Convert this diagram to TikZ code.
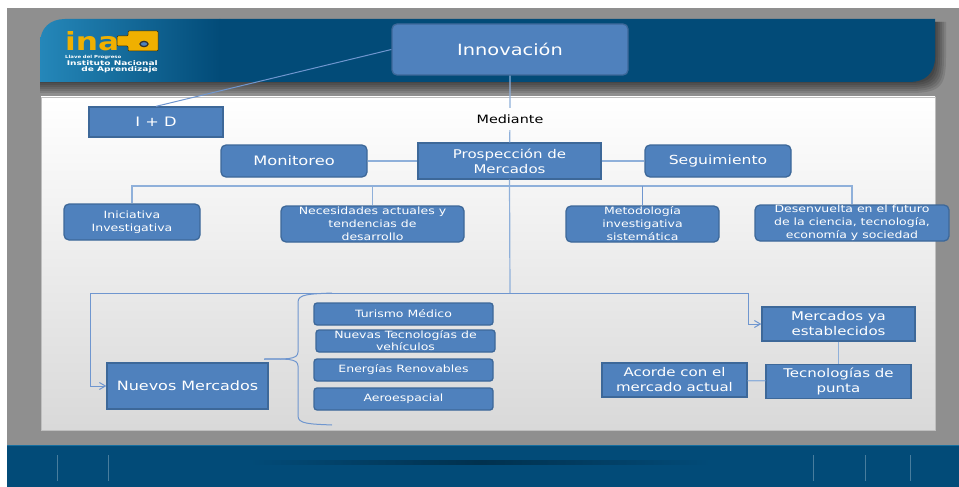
\documentclass[tikz,border=0pt]{standalone}
\usepackage{fontspec}
\setmainfont[FakeStretch=1.25]{DejaVu Sans}
\usetikzlibrary{arrows, arrows.meta}
\usetikzlibrary{calc}
\definecolor{azulcaja}{HTML}{4F81BD}
\definecolor{bordecaja}{HTML}{3D6899}
\definecolor{linea}{HTML}{6F96CF}
\definecolor{lineaclara}{HTML}{8FB0DA}
\definecolor{azulfondo}{HTML}{024B78}
\definecolor{azulclaro}{HTML}{2587B9}
\definecolor{llave}{HTML}{F0B000}
\tikzset{
  caja/.style={draw=bordecaja, line width=1.3pt, fill=azulcaja, text=white, inner sep=0pt, align=center},
  cajar/.style={caja, rounded corners=5pt},
  texg/.style={font=\fontsize{13}{15}\selectfont},
  texp/.style={font=\fontsize{10}{13}\selectfont},
  conector/.style={draw=linea, line width=1pt},
  conclaro/.style={draw=lineaclara, line width=1.2pt},
  flecha/.style={conector, -{Straight Barb[length=6pt, width=7pt]}},
  raya/.style={draw=white, opacity=.28, line width=.6pt},
  logotxt/.style={text=white, font=\bfseries\fontsize{6.4}{7}\selectfont, inner sep=0pt, xscale=1.13}
}
\begin{document}
\begin{tikzpicture}[x=1pt, y=-1pt]
  \useasboundingbox (0, 0) rectangle (959, 487);
  \fill[white] (0, 0) rectangle (959, 487);
  \fill[black!44] (7, 8) rectangle (959, 487);

  % cabecera
  \foreach \d in {11, 9, 7, 5, 3, 1}
    \fill[black, opacity=.11] (40, 60) -- (40, {82+\d}) -- (910, {82+\d}) .. controls ({930+\d}, {82+\d}) and ({935+\d}, {75+\d}) .. ({935+\d}, 57) -- ({935+\d}, 22) -- (900, 22) -- cycle;
  \shade[left color=azulclaro, right color=azulfondo] (40, 82) -- (40, 44) .. controls (40, 28) and (50, 19) .. (65, 19) -- (220, 19) -- (220, 82) -- cycle;
  \fill[azulfondo] (219.5, 19) -- (935, 19) -- (935, 57) .. controls (935, 73) and (925, 82) .. (910, 82) -- (219.5, 82) -- cycle;

  % logo
  \node[text=llave, font=\bfseries\fontsize{25}{25}\selectfont, inner sep=0pt, anchor=base west] (ina) at (65, 51) {ina};
  \fill[llave, draw=black!75!llave, line width=.5pt, rounded corners=1pt] (117, 36) -- (128, 36) -- (128, 31) -- (158, 31) -- (158, 51) -- (128, 51) -- (128, 46) -- (117, 46) -- cycle;
  \fill[azulcaja, draw=black!80, line width=1.3pt] (144, 44) ellipse[x radius=4, y radius=2.6];
  \node[logotxt, font=\bfseries\fontsize{4.2}{4.2}\selectfont, anchor=west, xscale=.9] (lema) at (65, 57) {Llave del Progreso};
  \node[logotxt, anchor=east] (instituto) at (158, 63.5) {Instituto Nacional};
  \node[logotxt, anchor=east] (aprendizaje) at (158, 70) {de Aprendizaje};

  % panel y pie
  \shade[top color=white, bottom color=black!15, draw=black!25, line width=.5pt] (41, 97) rectangle (935, 430);
  \fill[azulfondo] (7, 445) rectangle (959, 487);
  \draw[draw=azulclaro!60!azulfondo, line width=1pt] (7, 445) -- (959, 445);
  \shade[left color=azulfondo, right color=black!35!azulfondo] (250, 460) rectangle (480, 464);
  \shade[left color=black!35!azulfondo, right color=azulfondo] (480, 460) rectangle (710, 464);
  \foreach \x in {57, 108, 813, 865, 910}
    \draw[raya] (\x, 455) -- (\x, 481);

  % cajas
  \node[cajar, texg, font=\fontsize{15.5}{18}\selectfont, minimum width=236pt, minimum height=51pt] (innovacion) at (510, 49.5) {Innovación};
  \node[caja, texg, minimum width=134pt, minimum height=30pt] (imasd) at (156, 122) {I + D};
  \node[inner sep=0pt, minimum width=74pt, minimum height=22pt, font=\fontsize{11.5}{13}\selectfont] (mediante) at (510, 119) {Mediante};
  \node[cajar, texg, minimum width=146pt, minimum height=32pt] (monitoreo) at (294, 161) {Monitoreo};
  \node[caja, texg, font=\fontsize{12}{15}\selectfont, minimum width=183pt, minimum height=36pt] (prospeccion) at (509.5, 161) {Prospección de\\Mercados};
  \node[cajar, texg, font=\fontsize{12.5}{15}\selectfont, minimum width=146pt, minimum height=32pt] (seguimiento) at (718, 161) {Seguimiento};
  \node[cajar, texp, minimum width=136pt, minimum height=36pt] (iniciativa) at (132, 222) {Iniciativa\\Investigativa};
  \node[cajar, texp, minimum width=183pt, minimum height=36pt] (necesidades) at (372.5, 224) {Necesidades actuales y\\tendencias de\\desarrollo};
  \node[cajar, texp, minimum width=153pt, minimum height=36pt] (metodologia) at (642.5, 224) {Metodología\\investigativa\\sistemática};
  \node[cajar, texp, minimum width=194pt, minimum height=36pt] (desenvuelta) at (852, 223) {Desenvuelta en el futuro\\de la ciencia, tecnología,\\economía y sociedad};
  \node[caja, texg, font=\fontsize{12.8}{15}\selectfont, minimum width=161pt, minimum height=46pt] (nuevos) at (187.5, 386) {Nuevos Mercados};
  \node[cajar, texp, minimum width=179pt, minimum height=22pt, rounded corners=3pt] (turismo) at (403.5, 314) {Turismo Médico};
  \node[cajar, texp, font=\fontsize{10}{12}\selectfont, minimum width=179pt, minimum height=22pt, rounded corners=3pt] (vehiculos) at (405.5, 341) {Nuevas Tecnologías de\\vehículos};
  \node[cajar, texp, minimum width=179pt, minimum height=22pt, rounded corners=3pt] (energias) at (403.5, 370) {Energías Renovables};
  \node[cajar, texp, minimum width=179pt, minimum height=22pt, rounded corners=3pt] (aeroespacial) at (403.5, 399) {Aeroespacial};
  \node[caja, texg, font=\fontsize{12}{15}\selectfont, minimum width=153pt, minimum height=34pt] (mercados) at (838.5, 324) {Mercados ya\\establecidos};
  \node[caja, texg, font=\fontsize{12}{15}\selectfont, minimum width=145pt, minimum height=34pt] (tecnologias) at (838.5, 381.5) {Tecnologías de\\punta};
  \node[caja, texg, font=\fontsize{12}{15}\selectfont, minimum width=145pt, minimum height=34pt] (acorde) at (674.5, 380) {Acorde con el\\mercado actual};

  % conectores
  \coordinate (busa) at (510, 186);
  \coordinate (busb) at (510, 293);
  \coordinate (codoa) at (90, 293);
  \coordinate (codob) at (748, 293);
  \draw[conector] (innovacion.west) -- (imasd.north);
  \draw[conclaro] (innovacion) -- (mediante) -- (prospeccion);
  \draw[conclaro] (monitoreo) -- (prospeccion) -- (seguimiento);
  \draw[conclaro] (iniciativa.north) |- (busa) -| (desenvuelta.north);
  \draw[conclaro] (necesidades.north) -- (necesidades.north |- busa);
  \draw[conector] (metodologia.north) -- (metodologia.north |- busa);
  \draw[conclaro] (prospeccion.south) -- (busb);
  \draw[flecha] (busb) -- (codoa) |- (nuevos.west);
  \draw[flecha] (busb) -- (codob) |- (mercados.west);
  \draw[conclaro] (mercados) -- (tecnologias);
  \draw[conclaro] (acorde) -- (tecnologias);

  % llave
  \coordinate (llpico) at (264, 359);
  \coordinate (llarriba) at (332, 293);
  \coordinate (llabajo) at (332, 425);
  \draw[conector] (llpico) .. controls (285, 359) and (298, 360) .. (298, 352) -- (298, 302) .. controls (298, 294) and (310, 294) .. (llarriba);
  \draw[conector] (llpico) .. controls (285, 359) and (298, 358) .. (298, 366) -- (298, 416) .. controls (298, 424) and (310, 424) .. (llabajo);
\end{tikzpicture}
\end{document}
